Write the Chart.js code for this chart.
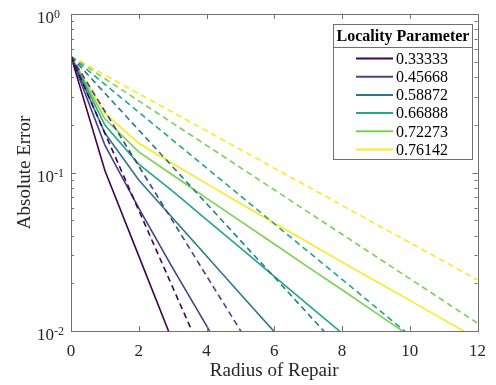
<!DOCTYPE html>
<html>
<head>
<meta charset="utf-8">
<script src="https://cdn.jsdelivr.net/npm/chart.js@4.4.0/dist/chart.umd.min.js"></script>
<style>
  html, body { margin: 0; padding: 0; background: #fff; }
  canvas { display: block; }
</style>
</head>
<body>
<canvas id="errorChart" width="496" height="385"></canvas>
<script>
// x values (radius of repair)
const radius = [0, 1, 2, 3, 4, 5, 6, 7, 8, 9, 10, 11, 12];

// legend labels and colors
const localityParams = ['0.33333', '0.45668', '0.58872', '0.66888', '0.72273', '0.76142'];
const lineColors = ['#440154', '#414487', '#2a788e', '#22a884', '#7ad151', '#fde725'];

// solid lines (measured error), one value per radius
const errSim1 = [0.54, 0.103, 0.0298, 0.0086];
const errSim2 = [0.54, 0.149, 0.0597, 0.0250, 0.0108, 0.0045];
const errSim3 = [0.54, 0.1775, 0.0897, 0.0516, 0.0297, 0.0171, 0.0099];
const errSim4 = [0.54, 0.199, 0.113, 0.0764, 0.0505, 0.0334, 0.0221, 0.0146, 0.0097];
const errSim5 = [0.54, 0.218, 0.135, 0.0964, 0.069, 0.0494, 0.0354, 0.0253, 0.0182, 0.013, 0.0093];
const errSim6 = [0.54, 0.236, 0.153, 0.114, 0.085, 0.0637, 0.048, 0.0362, 0.0272, 0.0206, 0.0156, 0.0118, 0.0089];

// dashed lines (bound)
const errBound1 = [0.54, 0.177, 0.0578, 0.0189, 0.0062];
const errBound2 = [0.54, 0.2435, 0.1098, 0.0495, 0.0223, 0.0101, 0.0045];
const errBound3 = [0.54, 0.3164, 0.1854, 0.1087, 0.0637, 0.0373, 0.0219, 0.0128, 0.0075];
const errBound4 = [0.54, 0.360, 0.2402, 0.1602, 0.1069, 0.0713, 0.0475, 0.0317, 0.0212, 0.0141, 0.0094];
const errBound5 = [0.54, 0.391, 0.2831, 0.205, 0.1484, 0.1074, 0.0778, 0.0563, 0.0408, 0.0295, 0.0214, 0.0155, 0.0112];
const errBound6 = [0.54, 0.412, 0.3144, 0.2399, 0.183, 0.1396, 0.1065, 0.0813, 0.062, 0.0473, 0.0361, 0.0276, 0.021];

const xTicks = [0, 2, 4, 6, 8, 10, 12];
const yMajor = [0.01, 0.1, 1];
const yExp = ['-2', '-1', '0'];

const simSeries = [errSim1, errSim2, errSim3, errSim4, errSim5, errSim6];
const boundSeries = [errBound1, errBound2, errBound3, errBound4, errBound5, errBound6];

function toPoints(arr) {
    return arr.map((v, i) => ({ x: radius[i], y: v }));
}

const datasets = [];
boundSeries.forEach((arr, i) => {
    datasets.push({
        label: localityParams[i] + ' bound',
        data: toPoints(arr),
        borderColor: lineColors[i],
        borderWidth: 1.6,
        borderDash: [6, 4],
        fill: false
    });
});
simSeries.forEach((arr, i) => {
    datasets.push({
        label: localityParams[i],
        data: toPoints(arr),
        borderColor: lineColors[i],
        borderWidth: 1.6,
        fill: false
    });
});

const serif = 'Liberation Serif, Times New Roman, serif';
const textColor = '#262626';
const axisColor = '#707070';

// box, inward ticks, y labels and legend
const decorPlugin = {
    id: 'decor',
    afterDraw(chart) {
        const ctx = chart.ctx;
        const a = chart.chartArea;
        const xs = chart.scales.x;
        const ys = chart.scales.y;
        ctx.save();
        ctx.strokeStyle = axisColor;
        ctx.lineWidth = 1;
        ctx.strokeRect(Math.round(a.left) + 0.5, Math.round(a.top) + 0.5,
            Math.round(a.right - a.left), Math.round(a.bottom - a.top));

        ctx.beginPath();
        xTicks.forEach(v => {
            const px = Math.round(xs.getPixelForValue(v)) + 0.5;
            ctx.moveTo(px, a.bottom); ctx.lineTo(px, a.bottom - 5);
            ctx.moveTo(px, a.top); ctx.lineTo(px, a.top + 5);
        });
        yMajor.forEach(v => {
            const py = Math.round(ys.getPixelForValue(v)) + 0.5;
            ctx.moveTo(a.left, py); ctx.lineTo(a.left + 5, py);
            ctx.moveTo(a.right, py); ctx.lineTo(a.right - 5, py);
        });
        [0.01, 0.1].forEach(d => {
            for (let k = 2; k <= 9; k++) {
                const py = Math.round(ys.getPixelForValue(d * k)) + 0.5;
                ctx.moveTo(a.left, py); ctx.lineTo(a.left + 3, py);
                ctx.moveTo(a.right, py); ctx.lineTo(a.right - 3, py);
            }
        });
        ctx.stroke();

        // y tick labels 10^n
        ctx.fillStyle = textColor;
        ctx.textAlign = 'left';
        ctx.textBaseline = 'alphabetic';
        yMajor.forEach((v, i) => {
            const py = ys.getPixelForValue(v);
            ctx.font = '17px ' + serif;
            ctx.fillText('10', 37, py + 9);
            const w = ctx.measureText('10').width;
            ctx.font = '12px ' + serif;
            ctx.fillText(yExp[i], 37 + w, py + 4);
        });

        // legend
        const lx = 333, ly = 24, lw = 139, lh = 135;
        ctx.fillStyle = '#fff';
        ctx.fillRect(lx, ly, lw, lh);
        ctx.strokeStyle = axisColor;
        ctx.strokeRect(lx + 0.5, ly + 0.5, lw, lh);
        ctx.beginPath();
        ctx.moveTo(lx, ly + 23.5); ctx.lineTo(lx + lw, ly + 23.5);
        ctx.stroke();
        ctx.fillStyle = '#000';
        ctx.textAlign = 'center';
        ctx.textBaseline = 'middle';
        ctx.font = 'bold 16px ' + serif;
        ctx.fillText('Locality Parameter', lx + lw / 2 + 0.5, ly + 12.5);
        ctx.font = '16px ' + serif;
        ctx.textAlign = 'left';
        localityParams.forEach((p, i) => {
            const y = ly + 34.5 + i * 18.2;
            ctx.strokeStyle = lineColors[i];
            ctx.lineWidth = 2;
            ctx.beginPath();
            ctx.moveTo(356, y); ctx.lineTo(393, y);
            ctx.stroke();
            ctx.fillStyle = '#000';
            ctx.fillText(p, 396, y + 1);
        });
        ctx.restore();
    }
};

const chart = new Chart(document.getElementById('errorChart'), {
    type: 'line',
    data: { datasets: datasets },
    options: {
        responsive: false,
        animation: false,
        devicePixelRatio: 1,
        layout: { padding: { top: 14, right: 14, left: 0, bottom: 0 } },
        plugins: {
            legend: { display: false },
            tooltip: { enabled: false }
        },
        elements: { point: { radius: 0 }, line: { tension: 0 } },
        scales: {
            x: {
                type: 'linear',
                min: 0,
                max: 12,
                grid: { display: false, drawTicks: false },
                border: { display: false },
                ticks: {
                    stepSize: 2,
                    padding: 10,
                    color: textColor,
                    font: { family: serif, size: 17 }
                },
                title: {
                    display: true,
                    text: 'Radius of Repair',
                    color: textColor,
                    font: { family: serif, size: 19 },
                    padding: { top: 0, bottom: 3 }
                },
                afterFit: s => { s.height = 54; }
            },
            y: {
                type: 'logarithmic',
                min: 0.01,
                max: 1,
                grid: { display: false, drawTicks: false },
                border: { display: false },
                ticks: { display: false },
                title: {
                    display: true,
                    text: 'Absolute Error',
                    color: textColor,
                    font: { family: serif, size: 19 },
                    padding: { top: 14, bottom: 0 }
                },
                afterFit: s => { s.width = 71; }
            }
        }
    },
    plugins: [decorPlugin]
});
</script>
</body>
</html>
